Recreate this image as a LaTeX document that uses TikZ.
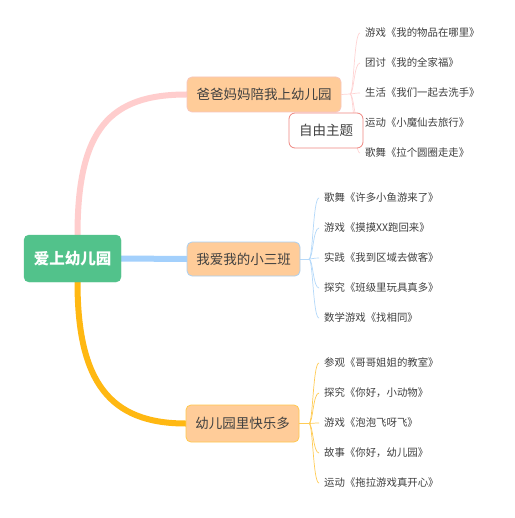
\documentclass[tikz,border=0pt]{standalone}
\usepackage{fontspec}
\setmainfont{Noto Sans CJK SC}
\usetikzlibrary{backgrounds,calc}
\definecolor{rootg}{HTML}{52C28B}
\definecolor{mainfill}{HTML}{FFCC99}
\definecolor{pinkc}{HTML}{FFCDCD}
\definecolor{bluec}{HTML}{A3D0FC}
\definecolor{orangec}{HTML}{FFB812}
\definecolor{pinkb}{HTML}{F8C6BC}
\definecolor{blueb}{HTML}{A9D1F5}
\definecolor{orangeb}{HTML}{FFC94D}
\definecolor{redb}{HTML}{EE8680}
\definecolor{pinkl}{HTML}{FFD4D4}
\definecolor{bluel}{HTML}{B5D9FA}
\definecolor{orangel}{HTML}{FFCC55}
\definecolor{txt}{HTML}{404040}
\tikzset{
  rootbox/.style={draw=rootg,fill=rootg,rounded corners=5pt,minimum width=97pt,minimum height=47pt,text=white,font=\fontsize{15.5}{17}\selectfont\bfseries,inner sep=0pt},
  mainbox/.style={fill=mainfill,rounded corners=5pt,minimum height=35pt,text=txt,font=\fontsize{13.5}{15}\selectfont,inner sep=0pt,line width=0.8pt},
  freebox/.style={draw=redb,fill=white,rounded corners=6pt,minimum width=74pt,minimum height=35pt,text=txt,font=\fontsize{13.5}{15}\selectfont,inner sep=0pt,line width=0.8pt},
  leaf/.style={anchor=west,text=txt,font=\fontsize{10.4}{12}\selectfont,inner sep=0pt},
  thickline/.style={line width=6pt,line cap=round},
  thinline/.style={line width=0.7pt}
}
\begin{document}
\begin{tikzpicture}[x=1pt,y=-1pt]
\useasboundingbox (0,0) rectangle (514,518);
% main nodes
\node[rootbox] (root) at (72.5,258.5) {爱上幼儿园};
\node[mainbox,draw=pinkb,minimum width=154pt] (n1) at (264,94.5) {爸爸妈妈陪我上幼儿园};
\node[mainbox,draw=blueb,minimum width=113pt,minimum height=34pt] (n2) at (243.5,259) {我爱我的小三班};
\node[mainbox,draw=orangeb,minimum width=113pt,minimum height=37pt] (n3) at (242.5,423.5) {幼儿园里快乐多};
% leaves group 1
\node[leaf] (a1) at (365,33) {游戏《我的物品在哪里》};
\node[leaf] (a2) at (365,63) {团讨《我的全家福》};
\node[leaf] (a3) at (365,93) {生活《我们一起去洗手》};
\node[leaf] (a4) at (365,123) {运动《小魔仙去旅行》};
\node[leaf] (a5) at (365,153) {歌舞《拉个圆圈走走》};
% leaves group 2
\node[leaf] (b1) at (324,198) {歌舞《许多小鱼游来了》};
\node[leaf] (b2) at (324,228) {游戏《摸摸XX跑回来》};
\node[leaf] (b3) at (324,258) {实践《我到区域去做客》};
\node[leaf] (b4) at (324,288) {探究《班级里玩具真多》};
\node[leaf] (b5) at (324,318) {数学游戏《找相同》};
% leaves group 3
\node[leaf] (c1) at (324,363) {参观《哥哥姐姐的教室》};
\node[leaf] (c2) at (324,393) {探究《你好，小动物》};
\node[leaf] (c3) at (324,423) {游戏《泡泡飞呀飞》};
\node[leaf] (c4) at (324,453) {故事《你好，幼儿园》};
\node[leaf] (c5) at (324,483) {运动《拖拉游戏真开心》};
% junctions
\coordinate (j1) at (350,94);
\coordinate (j2) at (309,259);
\coordinate (j3) at (309,423.5);
\begin{pgfonlayer}{background}
\fill[white] (0,0) rectangle (514,518);
\draw[thickline,pinkc] ($(root.north)+(5,0)$) .. controls +(0,-106) and (110,94.5) .. (n1.west);
\draw[thickline,bluec] (root.east) -- (n2.west);
\draw[thickline,orangec] ($(root.south)+(5,0)$) .. controls +(0,100) and (110,423.5) .. (n3.west);
\draw[thinline,pinkl] (n1.east) -- (j1);
\foreach \l in {a1,a2,a3,a4,a5}{
  \draw[thinline,pinkl] (j1) .. controls +(4,0) and ($(\l.west)+(-11,0)$) .. ($(\l.west)+(-5,0)$);
}
\draw[thinline,bluel] (n2.east) -- (j2);
\foreach \l in {b1,b2,b3,b4,b5}{
  \draw[thinline,bluel] (j2) .. controls +(4,0) and ($(\l.west)+(-11,0)$) .. ($(\l.west)+(-5,0)$);
}
\draw[thinline,orangel] (n3.east) -- (j3);
\foreach \l in {c1,c2,c3,c4,c5}{
  \draw[thinline,orangel] (j3) .. controls +(4,0) and ($(\l.west)+(-11,0)$) .. ($(\l.west)+(-5,0)$);
}
\end{pgfonlayer}
\node[freebox] (free) at (326,130.5) {自由主题};
\end{tikzpicture}
\end{document}
